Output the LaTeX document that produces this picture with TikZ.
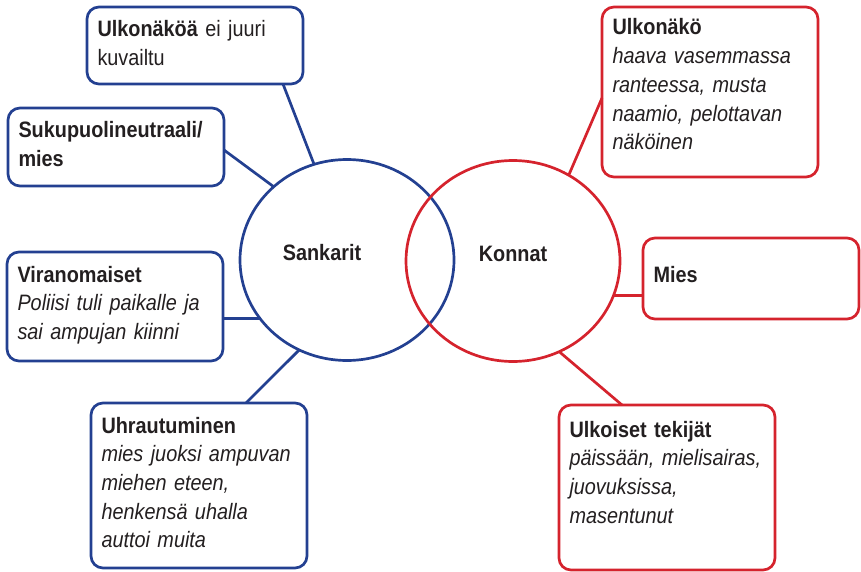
\documentclass[tikz,border=0pt]{standalone}
\usepackage{fontspec}
\setmainfont[FakeStretch=0.89]{Liberation Sans}
\usetikzlibrary{shapes.geometric}
\definecolor{heroblue}{RGB}{35,64,145}
\definecolor{villainred}{RGB}{213,35,45}
\definecolor{ink}{RGB}{35,31,32}
\begin{document}
\begin{tikzpicture}[x=1pt, y=-1pt, line width=2.7pt,
    every node/.style={text=ink, font=\fontsize{22.3}{28.7}\selectfont},
    circ/.style={draw, ellipse, minimum width=214pt, minimum height=201pt, inner sep=0pt, outer sep=0pt},
    card/.style={draw, rounded corners=12pt, anchor=north west, align=left, text width=195pt,
                 inner xsep=10.5pt, inner ysep=0pt, outer sep=0pt, text height=30pt},
    hero/.style={draw=heroblue},
    villain/.style={draw=villainred},
    circtitle/.style={anchor=base, font=\fontsize{22.3}{28.7}\selectfont\bfseries}]

    \useasboundingbox (0,0) rectangle (861,572);

    % Two circles
    \node[circ, hero] (sankarit) at (347,260) {};
    \node[circ, villain] (konnat) at (513,261) {};
    \node[circtitle] (sankaritxt) at ([xshift=-25pt]sankarit.center) {Sankarit};
    \node[circtitle] (konnattxt) at (konnat.center) {Konnat};

    % Heroes (left side)
    \node[card, hero, text depth=47pt] (ulkonakoa) at (87,7)
        {\textbf{Ulkonäköä} ei juuri\\kuvailtu};
    \node[card, hero, text depth=48pt] (sukupuoli) at (8,108)
        {\textbf{Sukupuolineutraali/}\\\textbf{mies}};
    \node[card, hero, text depth=79pt] (viranomaiset) at (7,252)
        {\textbf{Viranomaiset}\\\textit{Poliisi tuli paikalle ja}\\\textit{sai ampujan kiinni}};
    \node[card, hero, text depth=135pt] (uhrautuminen) at (91,403)
        {\textbf{Uhrautuminen}\\\textit{mies juoksi ampuvan}\\\textit{miehen eteen,}\\\textit{henkensä uhalla}\\\textit{auttoi muita}};

    % Villains (right side)
    \node[card, villain, text height=28pt, text depth=142pt] (ulkonako) at (602,7)
        {\textbf{Ulkonäkö}\\\textit{haava vasemmassa}\\\textit{ranteessa, musta}\\\textit{naamio, pelottavan}\\\textit{näköinen}};
    \node[card, villain, text height=44pt, text depth=37pt] (mies) at (643,238)
        {\textbf{Mies}};
    \node[card, villain, text height=32pt, text depth=133pt] (ulkoiset) at (559,405)
        {\textbf{Ulkoiset tekijät}\\\textit{päissään, mielisairas,}\\\textit{juovuksissa,}\\\textit{masentunut}};

    % Connectors to Sankarit
    \draw[heroblue] ([xshift=88pt]ulkonakoa.south) -- (sankarit.109);
    \draw[heroblue] ([yshift=-3pt]sukupuoli.east) -- (sankarit.135);
    \draw[heroblue] (sankarit.214 -| viranomaiset.east) -- (sankarit.214);
    \draw[heroblue] ([xshift=47pt]uhrautuminen.north) -- (sankarit.242);

    % Connectors to Konnat
    \draw[villainred] ([yshift=-6pt]ulkonako.west) -- (konnat.57);
    \draw[villainred] (konnat.341 -| mies.west) -- (konnat.341);
    \draw[villainred] ([xshift=-45pt]ulkoiset.north) -- (konnat.297);

\end{tikzpicture}
\end{document}
